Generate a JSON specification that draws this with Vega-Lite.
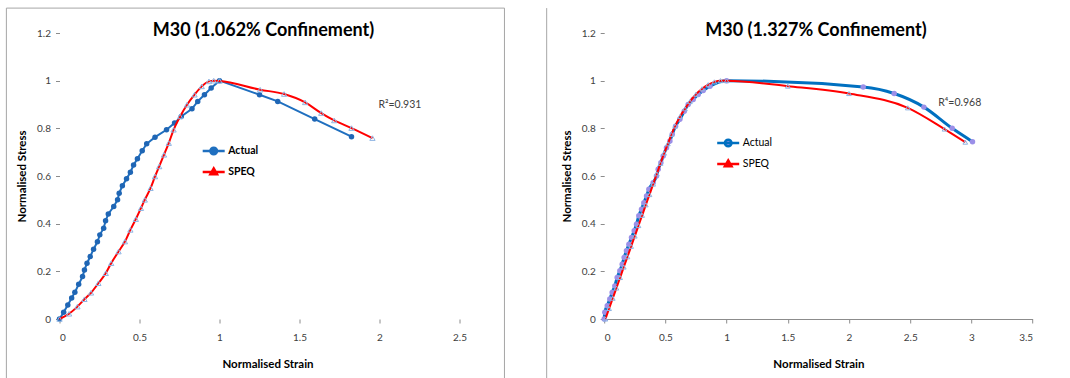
{
  "$schema": "https://vega.github.io/schema/vega-lite/v6.json",
  "padding": {"left": 5.5, "top": 7, "right": 0, "bottom": 0},
  "spacing": 128.7,
  "bounds": "flush",
  "config": {
    "view": {"stroke": null},
    "font": "Lato",
    "axis": {"grid": false, "labelFont": "Lato", "labelFontSize": 10, "labelColor": "#404040", "tickColor": "#8c8c8c", "tickSize": 4, "titleFont": "Lato", "titleFontSize": 11.5, "titleFontWeight": "bold", "titleColor": "#000000", "domainColor": "#8c8c8c"},
    "title": {"font": "Lato", "fontSize": 18, "fontWeight": "bold", "color": "#000000"}
  },
  "resolve": {"scale": {"color": "independent"}, "legend": {"color": "independent"}},
  "datasets": {
    "frame": [{"item": "frame"}],
    "curves": [
      {"panel": "A", "series": "Actual", "strain": 0, "stress": 0},
      {"panel": "A", "series": "Actual", "strain": 0.026, "stress": 0.028},
      {"panel": "A", "series": "Actual", "strain": 0.052, "stress": 0.059},
      {"panel": "A", "series": "Actual", "strain": 0.076, "stress": 0.088},
      {"panel": "A", "series": "Actual", "strain": 0.096, "stress": 0.112},
      {"panel": "A", "series": "Actual", "strain": 0.12, "stress": 0.146},
      {"panel": "A", "series": "Actual", "strain": 0.144, "stress": 0.178},
      {"panel": "A", "series": "Actual", "strain": 0.156, "stress": 0.206},
      {"panel": "A", "series": "Actual", "strain": 0.172, "stress": 0.234},
      {"panel": "A", "series": "Actual", "strain": 0.192, "stress": 0.262},
      {"panel": "A", "series": "Actual", "strain": 0.213, "stress": 0.293},
      {"panel": "A", "series": "Actual", "strain": 0.237, "stress": 0.324},
      {"panel": "A", "series": "Actual", "strain": 0.252, "stress": 0.353},
      {"panel": "A", "series": "Actual", "strain": 0.276, "stress": 0.381},
      {"panel": "A", "series": "Actual", "strain": 0.288, "stress": 0.412},
      {"panel": "A", "series": "Actual", "strain": 0.305, "stress": 0.441},
      {"panel": "A", "series": "Actual", "strain": 0.339, "stress": 0.472},
      {"panel": "A", "series": "Actual", "strain": 0.363, "stress": 0.5},
      {"panel": "A", "series": "Actual", "strain": 0.373, "stress": 0.528},
      {"panel": "A", "series": "Actual", "strain": 0.393, "stress": 0.559},
      {"panel": "A", "series": "Actual", "strain": 0.419, "stress": 0.588},
      {"panel": "A", "series": "Actual", "strain": 0.443, "stress": 0.616},
      {"panel": "A", "series": "Actual", "strain": 0.463, "stress": 0.646},
      {"panel": "A", "series": "Actual", "strain": 0.487, "stress": 0.672},
      {"panel": "A", "series": "Actual", "strain": 0.517, "stress": 0.706},
      {"panel": "A", "series": "Actual", "strain": 0.545, "stress": 0.735},
      {"panel": "A", "series": "Actual", "strain": 0.597, "stress": 0.763},
      {"panel": "A", "series": "Actual", "strain": 0.669, "stress": 0.794},
      {"panel": "A", "series": "Actual", "strain": 0.719, "stress": 0.822},
      {"panel": "A", "series": "Actual", "strain": 0.761, "stress": 0.85},
      {"panel": "A", "series": "Actual", "strain": 0.828, "stress": 0.882},
      {"panel": "A", "series": "Actual", "strain": 0.864, "stress": 0.913},
      {"panel": "A", "series": "Actual", "strain": 0.906, "stress": 0.941},
      {"panel": "A", "series": "Actual", "strain": 0.948, "stress": 0.969},
      {"panel": "A", "series": "Actual", "strain": 1.0, "stress": 1.0},
      {"panel": "A", "series": "Actual", "strain": 1.25, "stress": 0.941},
      {"panel": "A", "series": "Actual", "strain": 1.364, "stress": 0.913},
      {"panel": "A", "series": "Actual", "strain": 1.595, "stress": 0.839},
      {"panel": "A", "series": "Actual", "strain": 1.825, "stress": 0.765},
      {"panel": "A", "series": "SPEQ", "strain": 0, "stress": 0},
      {"panel": "A", "series": "SPEQ", "strain": 0.06, "stress": 0.022},
      {"panel": "A", "series": "SPEQ", "strain": 0.112, "stress": 0.052},
      {"panel": "A", "series": "SPEQ", "strain": 0.156, "stress": 0.083},
      {"panel": "A", "series": "SPEQ", "strain": 0.197, "stress": 0.11},
      {"panel": "A", "series": "SPEQ", "strain": 0.243, "stress": 0.15},
      {"panel": "A", "series": "SPEQ", "strain": 0.289, "stress": 0.192},
      {"panel": "A", "series": "SPEQ", "strain": 0.323, "stress": 0.234},
      {"panel": "A", "series": "SPEQ", "strain": 0.369, "stress": 0.283},
      {"panel": "A", "series": "SPEQ", "strain": 0.409, "stress": 0.325},
      {"panel": "A", "series": "SPEQ", "strain": 0.443, "stress": 0.374},
      {"panel": "A", "series": "SPEQ", "strain": 0.477, "stress": 0.419},
      {"panel": "A", "series": "SPEQ", "strain": 0.509, "stress": 0.465},
      {"panel": "A", "series": "SPEQ", "strain": 0.533, "stress": 0.5},
      {"panel": "A", "series": "SPEQ", "strain": 0.569, "stress": 0.549},
      {"panel": "A", "series": "SPEQ", "strain": 0.597, "stress": 0.598},
      {"panel": "A", "series": "SPEQ", "strain": 0.623, "stress": 0.64},
      {"panel": "A", "series": "SPEQ", "strain": 0.653, "stress": 0.689},
      {"panel": "A", "series": "SPEQ", "strain": 0.683, "stress": 0.738},
      {"panel": "A", "series": "SPEQ", "strain": 0.713, "stress": 0.794},
      {"panel": "A", "series": "SPEQ", "strain": 0.754, "stress": 0.85},
      {"panel": "A", "series": "SPEQ", "strain": 0.797, "stress": 0.899},
      {"panel": "A", "series": "SPEQ", "strain": 0.844, "stress": 0.941},
      {"panel": "A", "series": "SPEQ", "strain": 0.889, "stress": 0.976},
      {"panel": "A", "series": "SPEQ", "strain": 0.934, "stress": 0.997},
      {"panel": "A", "series": "SPEQ", "strain": 0.964, "stress": 1.0},
      {"panel": "A", "series": "SPEQ", "strain": 1.0, "stress": 0.999},
      {"panel": "A", "series": "SPEQ", "strain": 1.254, "stress": 0.962},
      {"panel": "A", "series": "SPEQ", "strain": 1.404, "stress": 0.944},
      {"panel": "A", "series": "SPEQ", "strain": 1.535, "stress": 0.909},
      {"panel": "A", "series": "SPEQ", "strain": 1.636, "stress": 0.864},
      {"panel": "A", "series": "SPEQ", "strain": 1.717, "stress": 0.833},
      {"panel": "A", "series": "SPEQ", "strain": 1.825, "stress": 0.801},
      {"panel": "A", "series": "SPEQ", "strain": 1.956, "stress": 0.759},
      {"panel": "B", "series": "Actual", "strain": 0, "stress": 0},
      {"panel": "B", "series": "Actual", "strain": 0.005, "stress": 0.028},
      {"panel": "B", "series": "Actual", "strain": 0.025, "stress": 0.056},
      {"panel": "B", "series": "Actual", "strain": 0.046, "stress": 0.084},
      {"panel": "B", "series": "Actual", "strain": 0.065, "stress": 0.111},
      {"panel": "B", "series": "Actual", "strain": 0.087, "stress": 0.139},
      {"panel": "B", "series": "Actual", "strain": 0.106, "stress": 0.174},
      {"panel": "B", "series": "Actual", "strain": 0.128, "stress": 0.202},
      {"panel": "B", "series": "Actual", "strain": 0.147, "stress": 0.23},
      {"panel": "B", "series": "Actual", "strain": 0.163, "stress": 0.258},
      {"panel": "B", "series": "Actual", "strain": 0.182, "stress": 0.286},
      {"panel": "B", "series": "Actual", "strain": 0.202, "stress": 0.314},
      {"panel": "B", "series": "Actual", "strain": 0.223, "stress": 0.342},
      {"panel": "B", "series": "Actual", "strain": 0.245, "stress": 0.37},
      {"panel": "B", "series": "Actual", "strain": 0.264, "stress": 0.398},
      {"panel": "B", "series": "Actual", "strain": 0.283, "stress": 0.433},
      {"panel": "B", "series": "Actual", "strain": 0.305, "stress": 0.461},
      {"panel": "B", "series": "Actual", "strain": 0.324, "stress": 0.488},
      {"panel": "B", "series": "Actual", "strain": 0.346, "stress": 0.516},
      {"panel": "B", "series": "Actual", "strain": 0.365, "stress": 0.544},
      {"panel": "B", "series": "Actual", "strain": 0.4, "stress": 0.572},
      {"panel": "B", "series": "Actual", "strain": 0.427, "stress": 0.6},
      {"panel": "B", "series": "Actual", "strain": 0.441, "stress": 0.628},
      {"panel": "B", "series": "Actual", "strain": 0.463, "stress": 0.656},
      {"panel": "B", "series": "Actual", "strain": 0.482, "stress": 0.684},
      {"panel": "B", "series": "Actual", "strain": 0.509, "stress": 0.719},
      {"panel": "B", "series": "Actual", "strain": 0.537, "stress": 0.747},
      {"panel": "B", "series": "Actual", "strain": 0.556, "stress": 0.775},
      {"panel": "B", "series": "Actual", "strain": 0.583, "stress": 0.809},
      {"panel": "B", "series": "Actual", "strain": 0.618, "stress": 0.838},
      {"panel": "B", "series": "Actual", "strain": 0.654, "stress": 0.872},
      {"panel": "B", "series": "Actual", "strain": 0.686, "stress": 0.9},
      {"panel": "B", "series": "Actual", "strain": 0.727, "stress": 0.921},
      {"panel": "B", "series": "Actual", "strain": 0.768, "stress": 0.942},
      {"panel": "B", "series": "Actual", "strain": 0.809, "stress": 0.959},
      {"panel": "B", "series": "Actual", "strain": 0.864, "stress": 0.977},
      {"panel": "B", "series": "Actual", "strain": 1.0, "stress": 1.0},
      {"panel": "B", "series": "Actual", "strain": 2.116, "stress": 0.973},
      {"panel": "B", "series": "Actual", "strain": 2.369, "stress": 0.946},
      {"panel": "B", "series": "Actual", "strain": 2.612, "stress": 0.889},
      {"panel": "B", "series": "Actual", "strain": 2.843, "stress": 0.8},
      {"panel": "B", "series": "Actual", "strain": 3.009, "stress": 0.744},
      {"panel": "B", "series": "SPEQ", "strain": 0.01, "stress": 0},
      {"panel": "B", "series": "SPEQ", "strain": 0.04, "stress": 0.044},
      {"panel": "B", "series": "SPEQ", "strain": 0.07, "stress": 0.087},
      {"panel": "B", "series": "SPEQ", "strain": 0.1, "stress": 0.13},
      {"panel": "B", "series": "SPEQ", "strain": 0.13, "stress": 0.174},
      {"panel": "B", "series": "SPEQ", "strain": 0.16, "stress": 0.218},
      {"panel": "B", "series": "SPEQ", "strain": 0.19, "stress": 0.261},
      {"panel": "B", "series": "SPEQ", "strain": 0.22, "stress": 0.305},
      {"panel": "B", "series": "SPEQ", "strain": 0.25, "stress": 0.348},
      {"panel": "B", "series": "SPEQ", "strain": 0.28, "stress": 0.392},
      {"panel": "B", "series": "SPEQ", "strain": 0.31, "stress": 0.435},
      {"panel": "B", "series": "SPEQ", "strain": 0.34, "stress": 0.479},
      {"panel": "B", "series": "SPEQ", "strain": 0.37, "stress": 0.522},
      {"panel": "B", "series": "SPEQ", "strain": 0.4, "stress": 0.566},
      {"panel": "B", "series": "SPEQ", "strain": 0.43, "stress": 0.609},
      {"panel": "B", "series": "SPEQ", "strain": 0.46, "stress": 0.653},
      {"panel": "B", "series": "SPEQ", "strain": 0.49, "stress": 0.696},
      {"panel": "B", "series": "SPEQ", "strain": 0.52, "stress": 0.735},
      {"panel": "B", "series": "SPEQ", "strain": 0.55, "stress": 0.775},
      {"panel": "B", "series": "SPEQ", "strain": 0.58, "stress": 0.81},
      {"panel": "B", "series": "SPEQ", "strain": 0.62, "stress": 0.85},
      {"panel": "B", "series": "SPEQ", "strain": 0.66, "stress": 0.882},
      {"panel": "B", "series": "SPEQ", "strain": 0.7, "stress": 0.912},
      {"panel": "B", "series": "SPEQ", "strain": 0.75, "stress": 0.943},
      {"panel": "B", "series": "SPEQ", "strain": 0.8, "stress": 0.966},
      {"panel": "B", "series": "SPEQ", "strain": 0.85, "stress": 0.983},
      {"panel": "B", "series": "SPEQ", "strain": 0.9, "stress": 0.995},
      {"panel": "B", "series": "SPEQ", "strain": 0.95, "stress": 1.0},
      {"panel": "B", "series": "SPEQ", "strain": 1.0, "stress": 1.0},
      {"panel": "B", "series": "SPEQ", "strain": 1.5, "stress": 0.977},
      {"panel": "B", "series": "SPEQ", "strain": 2.0, "stress": 0.946},
      {"panel": "B", "series": "SPEQ", "strain": 2.48, "stress": 0.886},
      {"panel": "B", "series": "SPEQ", "strain": 2.78, "stress": 0.797},
      {"panel": "B", "series": "SPEQ", "strain": 2.95, "stress": 0.742}
    ],
    "notes": [
      {"panel": "A", "label": "R²=0.931", "strain": 1.993, "stress": 0.897},
      {"panel": "B", "label": "R⁴=0.968", "strain": 2.729, "stress": 0.908}
    ]
  },
  "hconcat": [
    {
      "width": 416,
      "height": 286,
      "title": {"text": "M30 (1.062% Confinement)", "anchor": "middle", "offset": -32.5, "dx": -4},
      "layer": [
        {
          "data": {"name": "frame"},
          "mark": {"type": "rect", "fill": "transparent", "stroke": "#a6a6a6", "strokeWidth": 1},
          "encoding": {
            "x": {"datum": -0.332, "type": "quantitative"},
            "x2": {"datum": 2.781},
            "y": {"datum": 1.3045, "type": "quantitative"},
            "y2": {"datum": -0.45}
          }
        },
        {
          "data": {"name": "curves"},
          "transform": [{"filter": "datum.panel === 'A' && datum.series === 'Actual'"}],
          "mark": {"type": "line", "interpolate": "linear", "strokeWidth": 2},
          "encoding": {
            "x": {"field": "strain", "type": "quantitative", "scale": {"domain": [0, 2.5]}, "axis": {"values": [0, 0.5, 1, 1.5, 2, 2.5], "format": "~g", "domain": false, "labelPadding": 9, "title": "Normalised Strain", "titlePadding": 16}},
            "y": {"field": "stress", "type": "quantitative", "scale": {"domain": [0, 1.2]}, "axis": {"values": [0, 0.2, 0.4, 0.6, 0.8, 1, 1.2], "format": "~g", "domain": false, "labelPadding": 5, "title": "Normalised Stress", "titlePadding": 9}},
            "color": {
              "field": "series", "type": "nominal",
              "scale": {"domain": ["Actual", "SPEQ"], "range": ["#1F6FBF", "#FF0000"]},
              "legend": {
                "orient": "none", "legendX": 141.7, "legendY": 105.5, "title": null, "padding": 0,
                "symbolSize": 484, "symbolStrokeWidth": 2.5, "labelFont": "Lato", "labelFontSize": 10.5, "labelFontWeight": "bold", "labelColor": "#000000", "labelOffset": 2, "rowPadding": -1,
                "encode": {"symbols": {"update": {
                  "shape": {"signal": "datum.value === 'Actual' ? 'M-1,0H1M0.3,0A0.3,0.3,0,1,1,-0.3,0A0.3,0.3,0,1,1,0.3,0Z' : 'M-1,0H1M0,-0.32L0.3,0.2L-0.3,0.2Z'"},
                  "fill": {"signal": "datum.value === 'Actual' ? '#1F6FBF' : 'transparent'"}
                }}}
              }
            }
          }
        },
        {
          "data": {"name": "curves"},
          "transform": [{"filter": "datum.panel === 'A' && datum.series === 'Actual'"}],
          "mark": {"type": "point", "shape": "circle", "filled": true, "size": 30, "color": "#1F66B5", "opacity": 1},
          "encoding": {"x": {"field": "strain", "type": "quantitative"}, "y": {"field": "stress", "type": "quantitative"}}
        },
        {
          "data": {"name": "curves"},
          "transform": [{"filter": "datum.panel === 'A' && datum.series === 'SPEQ'"}],
          "mark": {"type": "line", "interpolate": "monotone", "strokeWidth": 2},
          "encoding": {
            "x": {"field": "strain", "type": "quantitative"},
            "y": {"field": "stress", "type": "quantitative"},
            "color": {"field": "series", "type": "nominal"}
          }
        },
        {
          "data": {"name": "curves"},
          "transform": [{"filter": "datum.panel === 'A' && datum.series === 'SPEQ'"}],
          "mark": {"type": "point", "shape": "triangle-up", "filled": false, "size": 28, "stroke": "#8EB4E3", "strokeWidth": 1, "opacity": 1},
          "encoding": {"x": {"field": "strain", "type": "quantitative"}, "y": {"field": "stress", "type": "quantitative"}}
        },
        {
          "data": {"name": "notes"},
          "transform": [{"filter": "datum.panel === 'A'"}],
          "mark": {"type": "text", "align": "left", "baseline": "middle", "font": "Lato", "fontSize": 10.5, "color": "#404040"},
          "encoding": {"x": {"field": "strain", "type": "quantitative"}, "y": {"field": "stress", "type": "quantitative"}, "text": {"field": "label"}}
        }
      ]
    },
    {
      "width": 428.4,
      "height": 286,
      "title": {"text": "M30 (1.327% Confinement)", "anchor": "middle", "offset": -32, "dx": -2.5},
      "layer": [
        {
          "data": {"name": "frame"},
          "mark": {"type": "rule", "stroke": "#a6a6a6", "strokeWidth": 1},
          "encoding": {
            "x": {"datum": -0.47, "type": "quantitative"},
            "y": {"datum": 1.3045, "type": "quantitative"},
            "y2": {"datum": -0.45}
          }
        },
        {
          "data": {"name": "curves"},
          "transform": [{"filter": "datum.panel === 'B' && datum.series === 'Actual'"}],
          "mark": {"type": "line", "interpolate": "monotone", "strokeWidth": 3},
          "encoding": {
            "x": {"field": "strain", "type": "quantitative", "scale": {"domain": [0, 3.5]}, "axis": {"values": [0, 0.5, 1, 1.5, 2, 2.5, 3, 3.5], "format": "~g", "domain": true, "labelPadding": 9, "title": "Normalised Strain", "titlePadding": 16}},
            "y": {"field": "stress", "type": "quantitative", "scale": {"domain": [0, 1.2]}, "axis": {"values": [0, 0.2, 0.4, 0.6, 0.8, 1, 1.2], "format": "~g", "domain": false, "labelPadding": 5, "title": "Normalised Stress", "titlePadding": 9}},
            "color": {
              "field": "series", "type": "nominal",
              "scale": {"domain": ["Actual", "SPEQ"], "range": ["#0070C0", "#FF0000"]},
              "legend": {
                "orient": "none", "legendX": 111.5, "legendY": 97.5, "title": null, "padding": 0,
                "symbolSize": 484, "symbolStrokeWidth": 2.5, "labelFont": "Lato", "labelFontSize": 10.5, "labelFontWeight": "normal", "labelColor": "#000000", "labelOffset": 2, "rowPadding": -1,
                "encode": {"symbols": {"update": {
                  "shape": {"signal": "datum.value === 'Actual' ? 'M-1,0H1M0.3,0A0.3,0.3,0,1,1,-0.3,0A0.3,0.3,0,1,1,0.3,0Z' : 'M-1,0H1M0,-0.32L0.3,0.2L-0.3,0.2Z'"},
                  "fill": {"signal": "datum.value === 'Actual' ? '#9B8FE8' : 'transparent'"}
                }}}
              }
            }
          }
        },
        {
          "data": {"name": "curves"},
          "transform": [{"filter": "datum.panel === 'B' && datum.series === 'Actual'"}],
          "mark": {"type": "point", "shape": "circle", "filled": true, "size": 30, "color": "#9B8FE8", "opacity": 1},
          "encoding": {"x": {"field": "strain", "type": "quantitative"}, "y": {"field": "stress", "type": "quantitative"}}
        },
        {
          "data": {"name": "curves"},
          "transform": [{"filter": "datum.panel === 'B' && datum.series === 'SPEQ'"}],
          "mark": {"type": "line", "interpolate": "monotone", "strokeWidth": 2},
          "encoding": {
            "x": {"field": "strain", "type": "quantitative"},
            "y": {"field": "stress", "type": "quantitative"},
            "color": {"field": "series", "type": "nominal"}
          }
        },
        {
          "data": {"name": "curves"},
          "transform": [{"filter": "datum.panel === 'B' && datum.series === 'SPEQ'"}],
          "mark": {"type": "point", "shape": "triangle-up", "filled": false, "size": 22, "stroke": "#8EB4E3", "strokeWidth": 1, "opacity": 1},
          "encoding": {"x": {"field": "strain", "type": "quantitative"}, "y": {"field": "stress", "type": "quantitative"}}
        },
        {
          "data": {"name": "notes"},
          "transform": [{"filter": "datum.panel === 'B'"}],
          "mark": {"type": "text", "align": "left", "baseline": "middle", "font": "Lato", "fontSize": 10.5, "color": "#404040"},
          "encoding": {"x": {"field": "strain", "type": "quantitative"}, "y": {"field": "stress", "type": "quantitative"}, "text": {"field": "label"}}
        }
      ]
    }
  ]
}
